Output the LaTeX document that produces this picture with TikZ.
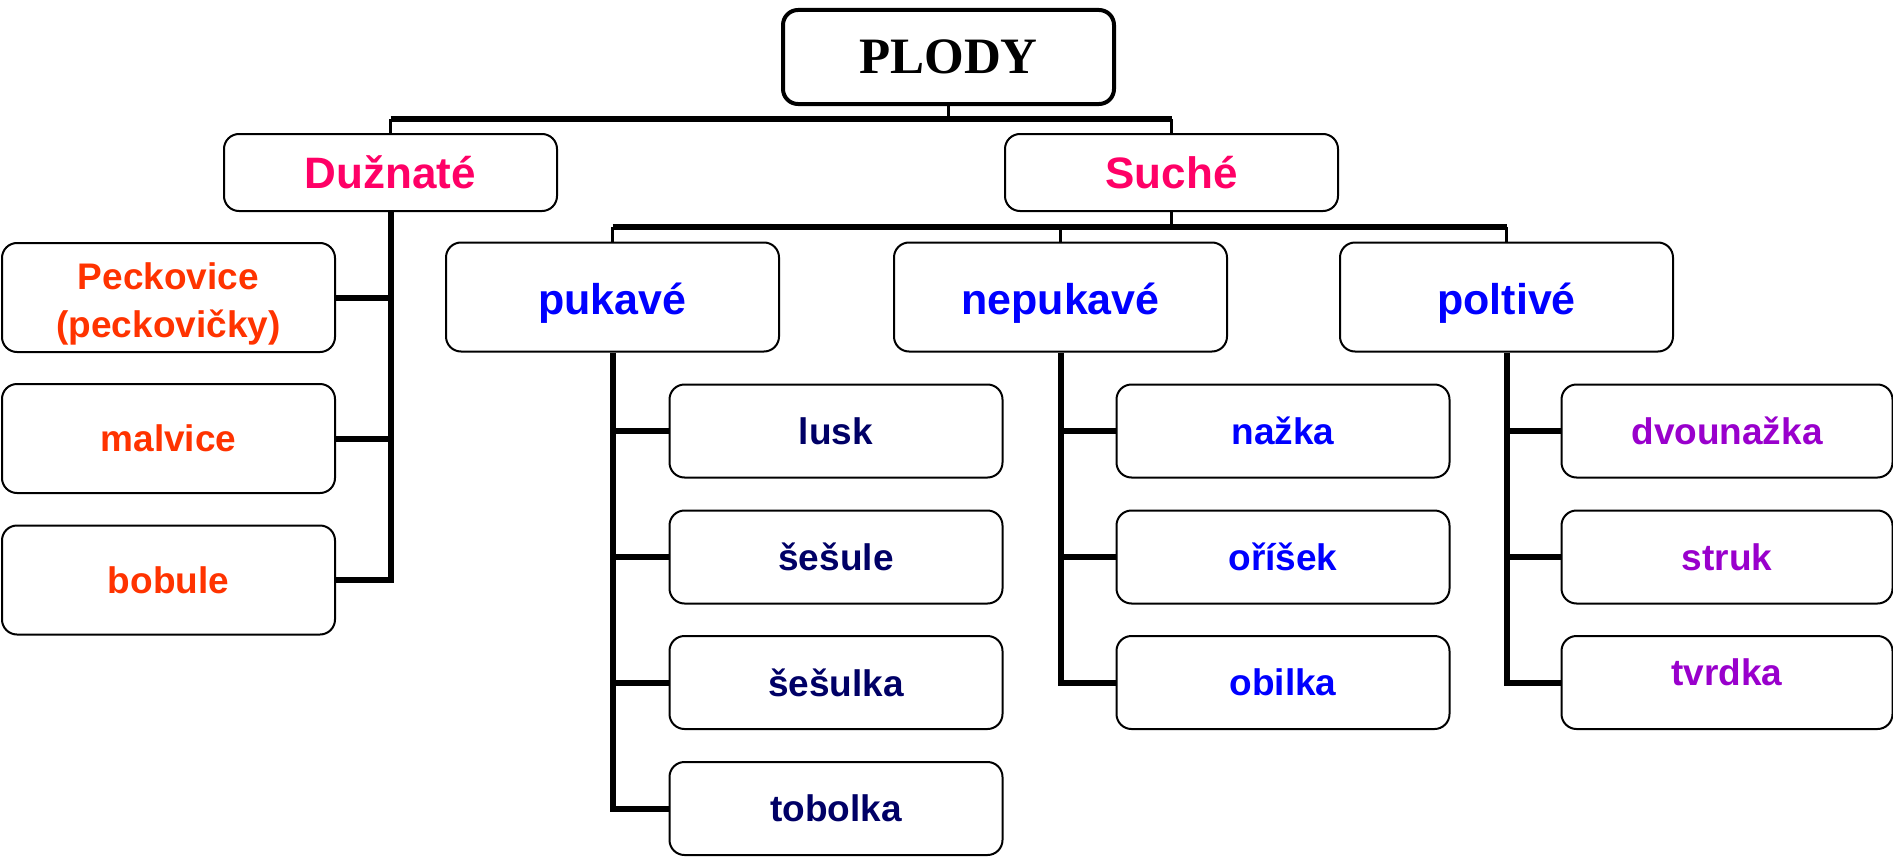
\documentclass[tikz,border=0pt]{standalone}
\usepackage{fontspec}
\setmainfont{Liberation Sans}
\newfontfamily\titleserif{Liberation Serif}
\definecolor{pinkc}{HTML}{FF0066}
\definecolor{orangec}{HTML}{FF3300}
\definecolor{bluec}{HTML}{0000FF}
\definecolor{navyc}{HTML}{000066}
\definecolor{purplec}{HTML}{9900CC}
% shift a node's text down (#1 = twice the shift) or up, without moving the box
\newcommand{\txtdown}[2]{\raisebox{0pt}[\dimexpr\height+#1\relax][\depth]{#2}}
\newcommand{\txtup}[2]{\raisebox{0pt}[\height][\dimexpr\depth+#1\relax]{#2}}
\tikzset{
  box/.style={draw=black, line width=2pt, rounded corners=15pt, fill=white,
    minimum width=333pt, minimum height=93pt, inner sep=0pt, align=center,
    font=\fontsize{37}{46}\selectfont\bfseries},
  tallbox/.style={box, minimum height=109pt},
  subbox/.style={tallbox, font=\fontsize{43}{50}\selectfont\bfseries},
  catbox/.style={box, minimum height=77pt, font=\fontsize{44}{50}\selectfont\bfseries, text=pinkc},
  rootbox/.style={draw=black, line width=4pt, rounded corners=15pt, fill=white,
    minimum width=331pt, minimum height=94pt, inner sep=0pt,
    font=\fontsize{51}{56}\selectfont\titleserif\bfseries},
  link/.style={line width=6pt, line join=miter},
  thinlink/.style={line width=3pt},
}
\begin{document}
\begin{tikzpicture}[x=1pt,y=-1pt]
\useasboundingbox (0,0) rectangle (1893,859);
% nodes
\node[rootbox] (plody) at (948.5,57) {PLODY};
\node[catbox] (duz) at (390.5,172.5) {Dužnaté};
\node[catbox] (such) at (1171.5,172.5) {Suché};
\node[tallbox, text=orangec] (peck) at (168.5,297.5) {\txtdown{12pt}{\parbox{300pt}{\centering\baselineskip=48pt Peckovice\\(peckovičky)}}};
\node[tallbox, text=orangec] (malv) at (168.5,438.5) {malvice};
\node[tallbox, text=orangec] (bob) at (168.5,580) {bobule};
\node[subbox, text=bluec] (puk) at (612.5,297) {\txtdown{12pt}{pukavé}};
\node[subbox, text=bluec] (nepuk) at (1060.5,297) {\txtdown{12pt}{nepukavé}};
\node[subbox, text=bluec] (polt) at (1506.5,297) {\txtdown{12pt}{poltivé}};
\node[box, text=navyc] (lusk) at (836,431) {lusk};
\node[box, text=navyc] (sesule) at (836,557) {šešule};
\node[box, text=navyc] (sesulka) at (836,682.5) {šešulka};
\node[box, text=navyc] (tob) at (836,808.5) {tobolka};
\node[box, text=bluec] (nazka) at (1283,431) {nažka};
\node[box, text=bluec] (orisek) at (1283,557) {oříšek};
\node[box, text=bluec] (obilka) at (1283,682.5) {obilka};
\node[box, minimum width=331pt, text=purplec] (dvou) at (1727,431) {dvounažka};
\node[box, minimum width=331pt, text=purplec] (struk) at (1727,557) {struk};
\node[box, minimum width=331pt, text=purplec] (tvrd) at (1727,682.5) {\txtup{20pt}{tvrdka}};
% top level
\coordinate (bar1) at (0,119);
\draw[thinlink] (plody.south) -- (plody.south |- bar1);
\draw[link] (duz.north |- bar1) -- (such.north |- bar1);
\draw[thinlink] (duz.north |- bar1) -- (duz.north);
\draw[thinlink] (such.north |- bar1) -- (such.north);
% Suche level
\coordinate (bar2) at (0,227);
\draw[thinlink] (such.south) -- (such.south |- bar2);
\draw[link] (puk.north |- bar2) -- (polt.north |- bar2);
\draw[thinlink] (puk.north |- bar2) -- (puk.north);
\draw[thinlink] (nepuk.north |- bar2) -- (nepuk.north);
\draw[thinlink] (polt.north |- bar2) -- (polt.north);
% Duznate branch
\draw[link] (duz.south) -- (duz.south |- bob.east) -- (bob.east);
\draw[link] (duz.south |- peck.east) -- (peck.east);
\draw[link] (duz.south |- malv.east) -- (malv.east);
% pukave branch
\draw[link] (puk.south) -- (puk.south |- tob.west) -- (tob.west);
\draw[link] (puk.south |- lusk.west) -- (lusk.west);
\draw[link] (puk.south |- sesule.west) -- (sesule.west);
\draw[link] (puk.south |- sesulka.west) -- (sesulka.west);
% nepukave branch
\draw[link] (nepuk.south) -- (nepuk.south |- obilka.west) -- (obilka.west);
\draw[link] (nepuk.south |- nazka.west) -- (nazka.west);
\draw[link] (nepuk.south |- orisek.west) -- (orisek.west);
% poltive branch
\draw[link] (polt.south) -- (polt.south |- tvrd.west) -- (tvrd.west);
\draw[link] (polt.south |- dvou.west) -- (dvou.west);
\draw[link] (polt.south |- struk.west) -- (struk.west);
\end{tikzpicture}
\end{document}
